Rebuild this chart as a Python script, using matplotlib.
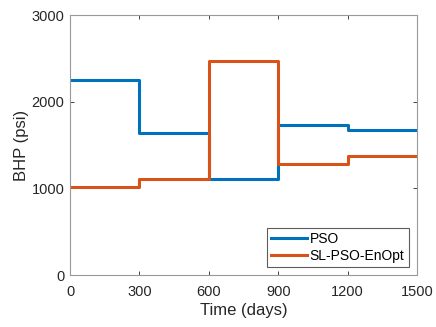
import numpy as np
import matplotlib.pyplot as plt

plt.rcParams['font.family'] = ['Liberation Sans', 'DejaVu Sans']

# control steps (days) and BHP values (psi)
t_edges = [0, 300, 600, 900, 1200, 1500]
bhp_pso = [2250, 1635, 1104, 1731, 1673]
bhp_sl = [1012, 1111, 2469, 1281, 1373]

fig = plt.figure(figsize=(4.36, 3.27), dpi=100)
ax = fig.add_axes([0.1606, 0.159, 0.796, 0.795])

ax.step(t_edges, bhp_pso + [bhp_pso[-1]], where='post', color='#0072BD', lw=2.2, label='PSO')
ax.step(t_edges, bhp_sl + [bhp_sl[-1]], where='post', color='#D95319', lw=2.2, label='SL-PSO-EnOpt')

ax.set_xlim(0, 1500)
ax.set_ylim(0, 3000)
ax.set_xticks(t_edges)
ax.set_yticks([0, 1000, 2000, 3000])
ax.tick_params(direction='in', top=True, right=True, labelsize=10.5, colors='#262626',
               length=3, width=0.6, pad=4)
ax.tick_params(axis='x', pad=7)
for s in ax.spines.values():
    s.set_color('#999999')
    s.set_linewidth(0.8)
ax.set_xlabel('Time (days)', fontsize=12, color='#262626', labelpad=3)
ax.set_ylabel('BHP (psi)', fontsize=12, color='#262626', labelpad=2)

leg = ax.legend(loc='lower right', fontsize=10, frameon=True, fancybox=False,
                edgecolor='#333333', handlelength=2.6, handletextpad=0.2,
                borderpad=0.3, labelspacing=0.2, borderaxespad=0.6)
leg.get_frame().set_linewidth(0.8)

plt.savefig('out.png', dpi=100)
